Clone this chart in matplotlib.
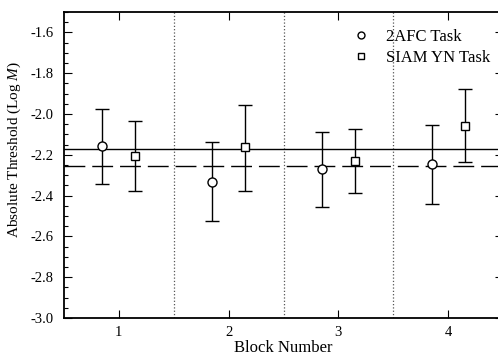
import numpy as np
import matplotlib
matplotlib.use('Agg')
import matplotlib.pyplot as plt
from matplotlib.ticker import MultipleLocator
from matplotlib.lines import Line2D

plt.rcParams['font.family'] = ['Liberation Serif', 'DejaVu Serif']
plt.rcParams['mathtext.fontset'] = 'custom'
plt.rcParams['mathtext.it'] = 'Liberation Serif:italic'
plt.rcParams['mathtext.rm'] = 'Liberation Serif'
plt.rcParams['axes.unicode_minus'] = False

# data
blocks = [1, 2, 3, 4]
afc_mean = [-2.159, -2.334, -2.272, -2.247]
afc_top = [-1.977, -2.138, -2.089, -2.056]
afc_bot = [-2.342, -2.526, -2.458, -2.440]
siam_mean = [-2.206, -2.164, -2.232, -2.057]
siam_top = [-2.036, -1.954, -2.075, -1.878]
siam_bot = [-2.379, -2.378, -2.389, -2.237]
afc_overall = -2.172
siam_overall = -2.253
separators = [1.5, 2.5, 3.5]

fig = plt.figure(figsize=(4.98, 3.62), dpi=100)
ax = fig.add_axes([64/498, 44/362, 439/498, 306/362])

b = np.array(blocks)
am = np.array(afc_mean)
sm = np.array(siam_mean)

for s in separators:
    ax.axvline(s, color='#555555', linestyle=':', linewidth=0.9)

ax.axhline(afc_overall, color='black', linewidth=1.0)
ax.axhline(siam_overall, color='black', linewidth=1.0, dashes=(15, 5))

ax.errorbar(b - 0.15, am, yerr=[am - np.array(afc_bot), np.array(afc_top) - am],
            fmt='o', mfc='white', mec='black', ecolor='black', ms=6.5, mew=1.0,
            elinewidth=1.0, capsize=5, capthick=1.0, zorder=3)
ax.errorbar(b + 0.15, sm, yerr=[sm - np.array(siam_bot), np.array(siam_top) - sm],
            fmt='s', mfc='white', mec='black', ecolor='black', ms=6, mew=1.0,
            elinewidth=1.0, capsize=5, capthick=1.0, zorder=3)

ax.set_xlim(0.5, 4.5)
ax.set_ylim(-3.0, -1.5)
ax.set_xticks(blocks)
ax.yaxis.set_minor_locator(MultipleLocator(0.05))
yt = np.arange(-3.0, -1.55, 0.2)
ax.set_yticks(yt)
ax.set_yticklabels(['%.1f' % v for v in yt])
ax.tick_params(which='both', direction='in', top=True, right=True, labelsize=10.5)
ax.tick_params(which='major', length=6, width=0.8)
ax.tick_params(which='minor', length=3, width=0.8)
ax.tick_params(axis='y', pad=7.5)
ax.tick_params(axis='x', pad=5.5)
for sp in ax.spines.values():
    sp.set_linewidth(1.3)

ax.set_xlabel('Block Number', fontsize=12, labelpad=1)
ax.set_ylabel('Absolute Threshold (Log $M$)', fontsize=11)
ax.yaxis.set_label_coords(-0.093, 0.552)

handles = [
    Line2D([], [], linestyle='none', marker='o', mfc='white', mec='black', ms=5, mew=1.0),
    Line2D([], [], linestyle='none', marker='s', mfc='white', mec='black', ms=5, mew=1.0),
]
ax.legend(handles, ['2AFC Task', 'SIAM YN Task'], loc='upper right', frameon=False,
          fontsize=12, handletextpad=0.5, labelspacing=0.3,
          bbox_to_anchor=(1.004, 0.995))

fig.savefig('out.png', dpi=100)
